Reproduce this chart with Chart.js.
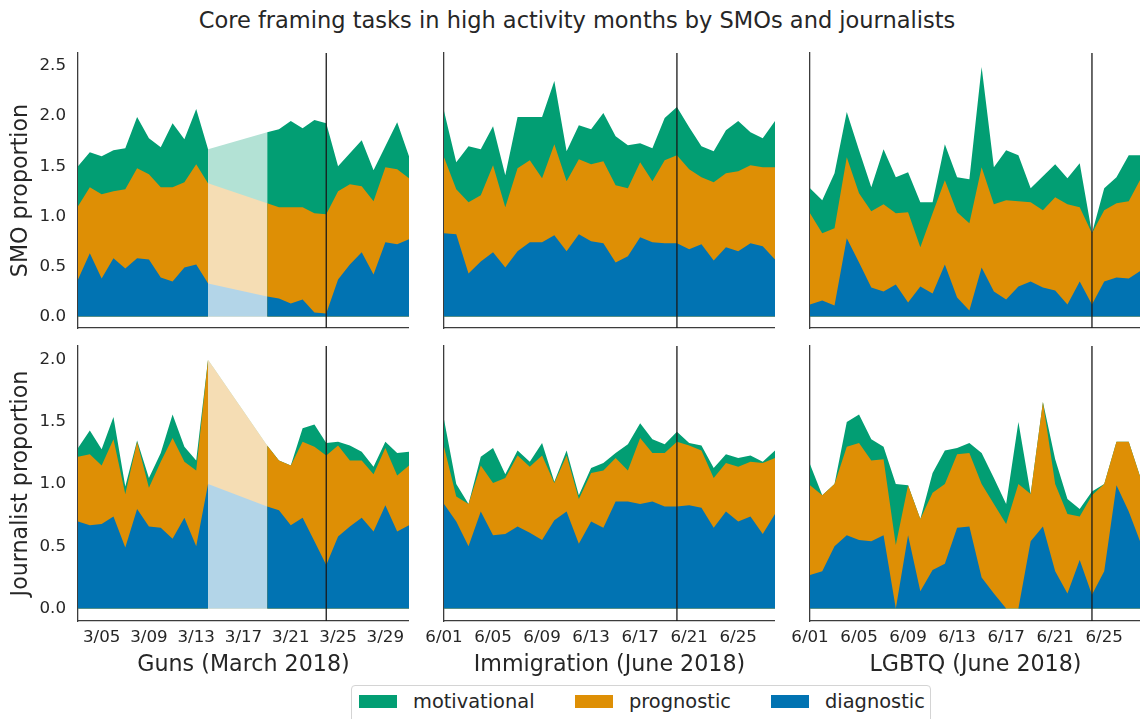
<!DOCTYPE html>
<html>
<head>
<meta charset="utf-8">
<script src="https://cdn.jsdelivr.net/npm/chart.js@4"></script>
<style>
  html, body { margin: 0; padding: 0; background: #fff; overflow: hidden; }
  body { width: 1140px; height: 719px; position: relative; font-family: 'DejaVu Sans', sans-serif; color: #262626; }
  canvas { position: absolute; }
  #title { position: absolute; left: 0; width: 1154px; top: 7px; text-align: center; font-size: 22.5px; line-height: 26px; }
  #legend { position: absolute; left: 351px; top: 685px; width: 580px; height: 42px; box-sizing: border-box;
            border: 1px solid #d4d4d4; border-radius: 4px; background: #fff; }
  .sw { position: absolute; top: 9px; width: 38px; height: 13px; }
  .lb { position: absolute; top: 6px; font-size: 19.4px; line-height: 20px; white-space: nowrap; }
</style>
</head>
<body>
<div id="title">Core framing tasks in high activity months by SMOs and journalists</div>

<canvas id="c11" width="409" height="285" style="left:0px;top:48px"></canvas>
<canvas id="c12" width="355" height="285" style="left:420px;top:48px"></canvas>
<canvas id="c13" width="355" height="285" style="left:786px;top:48px"></canvas>
<canvas id="c21" width="409" height="339" style="left:0px;top:341px"></canvas>
<canvas id="c22" width="355" height="339" style="left:420px;top:341px"></canvas>
<canvas id="c23" width="355" height="339" style="left:786px;top:341px"></canvas>

<div id="legend"></div>

<script>
// series order = stacking order (bottom first)
const seriesNames = ['diagnostic', 'prognostic', 'motivational'];
const seriesColors = ['#0173b2', '#de8f05', '#029e73'];
const gapColors = ['rgb(179,213,232)', 'rgb(245,221,180)', 'rgb(179,226,213)'];

// days of month (March 2018 has no data for 3/15-3/18)
const marchDays = [3,4,5,6,7,8,9,10,11,12,13,14,19,20,21,22,23,24,25,26,27,28,29,30,31];
const juneDays = [1,2,3,4,5,6,7,8,9,10,11,12,13,14,15,16,17,18,19,20,21,22,23,24,25,26,27,28];

const marchTickDays = [5, 9, 13, 17, 21, 25, 29];
const marchTickLabels = ['3/05', '3/09', '3/13', '3/17', '3/21', '3/25', '3/29'];
const juneTickDays = [1, 5, 9, 13, 17, 21, 25];
const juneTickLabels = ['6/01', '6/05', '6/09', '6/13', '6/17', '6/21', '6/25'];

const smoYTicks = [0, 0.5, 1, 1.5, 2, 2.5];
const journalistYTicks = [0, 0.5, 1, 1.5, 2];

const topicTitles = ['Guns (March 2018)', 'Immigration (June 2018)', 'LGBTQ (June 2018)'];
const rowTitles = ['SMO proportion', 'Journalist proportion'];
const eventDays = [24, 20, 24];

// SMOs - Guns
const smoGunsDiagnostic = [0.37,0.63,0.38,0.58,0.48,0.58,0.57,0.39,0.35,0.49,0.52,0.33,0.20,0.18,0.13,0.17,0.04,0.03,0.37,0.52,0.64,0.42,0.74,0.72,0.77];
const smoGunsPrognostic = [0.73,0.66,0.84,0.67,0.79,0.90,0.85,0.90,0.94,0.85,1.00,1.00,0.93,0.91,0.96,0.92,0.99,0.99,0.88,0.80,0.66,0.73,0.75,0.75,0.61];
const smoGunsMotivational = [0.40,0.35,0.38,0.41,0.41,0.51,0.36,0.40,0.64,0.43,0.55,0.34,0.71,0.78,0.86,0.79,0.93,0.91,0.25,0.31,0.46,0.31,0.21,0.47,0.22];

// SMOs - Immigration
const smoImmDiagnostic = [0.83,0.82,0.43,0.55,0.64,0.49,0.65,0.74,0.74,0.81,0.65,0.82,0.75,0.73,0.54,0.60,0.79,0.74,0.73,0.73,0.67,0.72,0.56,0.69,0.65,0.73,0.70,0.57];
const smoImmPrognostic = [0.76,0.45,0.71,0.66,0.87,0.60,0.83,0.82,0.64,0.91,0.70,0.75,0.77,0.82,0.77,0.68,0.75,0.61,0.83,0.88,0.80,0.67,0.78,0.74,0.80,0.78,0.79,0.92];
const smoImmMotivational = [0.46,0.27,0.56,0.46,0.39,0.32,0.51,0.43,0.61,0.63,0.30,0.34,0.35,0.48,0.49,0.43,0.19,0.33,0.42,0.48,0.42,0.31,0.31,0.43,0.50,0.33,0.29,0.46];

// SMOs - LGBTQ
const smoLgbtqDiagnostic = [0.12,0.16,0.11,0.78,0.54,0.29,0.25,0.32,0.14,0.30,0.23,0.52,0.19,0.06,0.49,0.25,0.17,0.30,0.35,0.29,0.26,0.12,0.35,0.12,0.35,0.39,0.38,0.46];
const smoLgbtqPrognostic = [0.91,0.67,0.77,0.81,0.69,0.76,0.87,0.71,0.90,0.39,0.80,0.84,0.85,0.87,1.00,0.87,0.99,0.85,0.79,0.77,0.93,1.00,0.74,0.71,0.71,0.74,0.77,0.92];
const smoLgbtqMotivational = [0.25,0.33,0.55,0.45,0.43,0.24,0.55,0.36,0.40,0.45,0.11,0.36,0.35,0.44,1.00,0.37,0.50,0.46,0.14,0.34,0.33,0.26,0.44,0.00,0.22,0.26,0.46,0.23];

// Journalists - Guns
const jrnGunsDiagnostic = [0.70,0.67,0.68,0.74,0.49,0.80,0.66,0.65,0.56,0.73,0.50,1.00,0.82,0.79,0.67,0.73,0.54,0.35,0.58,0.66,0.73,0.62,0.83,0.62,0.67];
const jrnGunsPrognostic = [0.52,0.57,0.47,0.62,0.43,0.54,0.31,0.53,0.81,0.45,0.61,1.00,0.49,0.40,0.48,0.61,0.76,0.88,0.73,0.53,0.46,0.46,0.46,0.45,0.48];
const jrnGunsMotivational = [0.07,0.19,0.13,0.18,0.06,0.01,0.08,0.07,0.19,0.12,0.08,0.00,0.00,0.00,0.00,0.11,0.18,0.10,0.03,0.12,0.07,0.06,0.05,0.18,0.11];

// Journalists - Immigration
const jrnImmDiagnostic = [0.84,0.70,0.50,0.78,0.59,0.60,0.66,0.61,0.55,0.71,0.78,0.52,0.70,0.65,0.86,0.86,0.84,0.86,0.82,0.82,0.83,0.81,0.65,0.78,0.70,0.74,0.60,0.76];
const jrnImmPrognostic = [0.46,0.20,0.34,0.37,0.42,0.45,0.57,0.53,0.68,0.30,0.45,0.36,0.39,0.46,0.35,0.25,0.53,0.39,0.43,0.52,0.48,0.46,0.40,0.39,0.44,0.44,0.57,0.45];
const jrnImmMotivational = [0.22,0.10,0.00,0.07,0.28,0.03,0.04,0.04,0.10,0.01,0.04,0.03,0.04,0.06,0.04,0.21,0.12,0.11,0.07,0.08,0.02,0.04,0.08,0.07,0.07,0.05,0.01,0.06];

// Journalists - LGBTQ
const jrnLgbtqDiagnostic = [0.27,0.30,0.50,0.59,0.55,0.54,0.59,0.00,0.59,0.14,0.31,0.36,0.65,0.66,0.25,0.12,0.00,0.00,0.54,0.66,0.30,0.12,0.39,0.11,0.30,0.99,0.78,0.52];
const jrnLgbtqPrognostic = [0.72,0.61,0.50,0.71,0.78,0.65,0.61,0.51,0.40,0.58,0.62,0.64,0.59,0.59,0.75,0.72,0.68,1.00,0.38,1.00,0.70,0.64,0.35,0.80,0.70,0.35,0.56,0.52];
const jrnLgbtqMotivational = [0.17,0.00,0.00,0.20,0.23,0.17,0.10,0.49,0.00,0.00,0.16,0.27,0.05,0.08,0.25,0.21,0.16,0.50,0.00,0.00,0.20,0.12,0.06,0.03,0.00,0.00,0.00,0.00];

Chart.defaults.font.family = "'DejaVu Sans', sans-serif";
Chart.defaults.color = '#262626';

const textColor = '#262626';
const spineColor = '#3c3c3c';

// vertical marker for the event day
const eventLine = {
  id: 'eventLine',
  afterDatasetsDraw(chart, args, opts) {
    const x = chart.scales.x.getPixelForValue(opts.day);
    const area = chart.chartArea;
    const ctx = chart.ctx;
    ctx.save();
    ctx.strokeStyle = '#1a1a1a';
    ctx.lineWidth = 1.3;
    ctx.beginPath();
    ctx.moveTo(x, area.top);
    ctx.lineTo(x, area.bottom);
    ctx.stroke();
    ctx.restore();
  }
};

function noPadding(s) {
  s.paddingTop = 0;
  s.paddingBottom = 0;
  s.paddingLeft = 0;
  s.paddingRight = 0;
}

function makePanel(id, row, col, days, series) {
  const bottomRow = row === 1;
  const firstCol = col === 0;
  const tickDays = col === 0 ? marchTickDays : juneTickDays;
  const tickLabels = col === 0 ? marchTickLabels : juneTickLabels;
  const yTicks = bottomRow ? journalistYTicks : smoYTicks;

  new Chart(document.getElementById(id), {
    type: 'line',
    data: {
      datasets: series.map((vals, i) => ({
        label: seriesNames[i],
        data: days.map((d, j) => ({ x: d, y: vals[j] })),
        backgroundColor: seriesColors[i],
        borderColor: 'rgba(0,0,0,0)',
        borderWidth: 0,
        pointRadius: 0,
        tension: 0,
        fill: 'origin',
        segment: {
          backgroundColor: c => (c.p1.parsed.x - c.p0.parsed.x > 1 ? gapColors[i] : undefined)
        }
      }))
    },
    options: {
      responsive: false,
      animation: false,
      devicePixelRatio: 1,
      layout: { padding: { top: 5, left: 0, right: 0, bottom: 0 } },
      plugins: {
        legend: { display: false },
        tooltip: { enabled: false },
        eventLine: { day: eventDays[col] }
      },
      scales: {
        x: {
          type: 'linear',
          min: days[0],
          max: days[days.length - 1],
          grid: { display: false, drawTicks: false },
          border: { display: true, color: spineColor, width: 1.3 },
          ticks: {
            display: bottomRow,
            padding: 7,
            maxRotation: 0,
            autoSkip: false,
            color: textColor,
            font: { size: 16.7 },
            callback: v => tickLabels[tickDays.indexOf(v)]
          },
          afterBuildTicks: s => { s.ticks = tickDays.map(v => ({ value: v })); },
          afterFit: s => { s.height = bottomRow ? 59 : 5; noPadding(s); },
          title: {
            display: bottomRow,
            text: topicTitles[col],
            color: textColor,
            font: { size: 22.2 },
            padding: { top: 0, bottom: 1 }
          }
        },
        y: {
          stacked: true,
          min: bottomRow ? -0.1 : -0.115,
          max: bottomRow ? 2.11 : 2.63,
          z: 1,
          grid: { display: false, drawTicks: false },
          border: { display: true, color: spineColor, width: 1.3 },
          ticks: {
            display: firstCol,
            padding: 12,
            color: textColor,
            font: { size: 16.7 },
            callback: v => v.toFixed(1)
          },
          afterBuildTicks: s => { s.ticks = yTicks.map(v => ({ value: v })); },
          afterFit: s => { s.width = firstCol ? 78 : 24; noPadding(s); },
          title: {
            display: firstCol,
            text: rowTitles[row],
            color: textColor,
            font: { size: 22.2 },
            padding: { top: 8, bottom: 0 }
          }
        }
      }
    },
    plugins: [eventLine]
  });
}

makePanel('c11', 0, 0, marchDays, [smoGunsDiagnostic, smoGunsPrognostic, smoGunsMotivational]);
makePanel('c12', 0, 1, juneDays, [smoImmDiagnostic, smoImmPrognostic, smoImmMotivational]);
makePanel('c13', 0, 2, juneDays, [smoLgbtqDiagnostic, smoLgbtqPrognostic, smoLgbtqMotivational]);
makePanel('c21', 1, 0, marchDays, [jrnGunsDiagnostic, jrnGunsPrognostic, jrnGunsMotivational]);
makePanel('c22', 1, 1, juneDays, [jrnImmDiagnostic, jrnImmPrognostic, jrnImmMotivational]);
makePanel('c23', 1, 2, juneDays, [jrnLgbtqDiagnostic, jrnLgbtqPrognostic, jrnLgbtqMotivational]);

// legend: motivational, prognostic, diagnostic
const legend = document.getElementById('legend');
const legendOrder = [2, 1, 0];
const legendSwatchX = [7, 223, 419];
legendOrder.forEach((si, k) => {
  const sw = document.createElement('span');
  sw.className = 'sw';
  sw.style.left = legendSwatchX[k] + 'px';
  sw.style.background = seriesColors[si];
  legend.appendChild(sw);
  const lb = document.createElement('span');
  lb.className = 'lb';
  lb.style.left = (legendSwatchX[k] + 54) + 'px';
  lb.textContent = seriesNames[si];
  legend.appendChild(lb);
});
</script>
</body>
</html>
